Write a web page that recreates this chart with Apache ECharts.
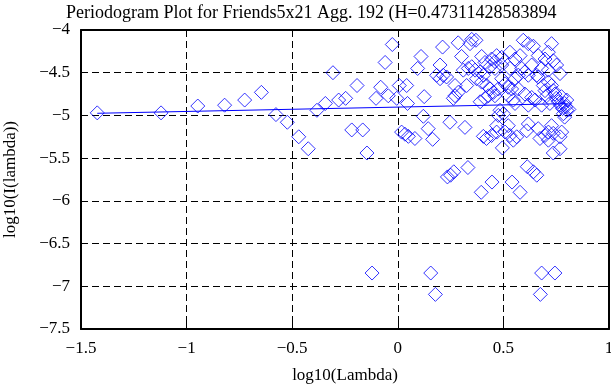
<!DOCTYPE html>
<html>
<head>
<meta charset="utf-8">
<script src="https://cdn.jsdelivr.net/npm/echarts@6/dist/echarts.min.js"></script>
<style>html,body{margin:0;padding:0;background:#fff}#c{width:611px;height:385px}</style>
</head>
<body>
<div id="c"></div>
<script>
var titleText = 'Periodogram Plot for Friends5x21 Agg. 192 (H=0.47311428583894';
var xName = 'log10(Lambda)';
var yName = 'log10(I(lambda))';
var xTicks = [-1.5, -1, -0.5, 0, 0.5, 1];
var yTicks = [-7.5, -7, -6.5, -6, -5.5, -5, -4.5, -4];

var logLambda = [-1.423,-1.121,-0.947,-0.820,-0.725,-0.646,-0.577,-0.523,-0.469,-0.424,
-0.383,-0.343,-0.307,-0.280,-0.247,-0.218,-0.193,-0.166,-0.146,-0.122,
-0.103,-0.081,-0.060,-0.045,-0.026,-0.005,0.007,0.018,0.034,0.042,
0.046,0.050,0.081,0.094,0.110,0.121,0.125,0.144,0.156,0.165,
0.178,0.184,0.200,0.200,0.212,0.215,0.231,0.235,0.247,0.250,
0.263,0.265,0.271,0.271,0.286,0.286,0.302,0.310,0.318,0.326,
0.332,0.334,0.342,0.350,0.350,0.366,0.370,0.373,0.390,0.390,
0.395,0.397,0.397,0.405,0.405,0.413,0.413,0.420,0.421,0.429,
0.437,0.437,0.444,0.444,0.446,0.453,0.460,0.460,0.460,0.468,
0.468,0.468,0.476,0.476,0.484,0.492,0.492,0.492,0.495,0.500,
0.508,0.508,0.523,0.523,0.523,0.531,0.531,0.531,0.539,0.541,
0.547,0.547,0.555,0.555,0.555,0.563,0.571,0.571,0.579,0.579,
0.587,0.594,0.602,0.602,0.610,0.613,0.618,0.618,0.618,0.618,
0.634,0.634,0.642,0.642,0.650,0.658,0.658,0.665,0.665,0.665,
0.673,0.675,0.681,0.681,0.681,0.689,0.697,0.697,0.697,0.705,
0.713,0.713,0.713,0.713,0.713,0.720,0.728,0.728,0.728,0.736,
0.736,0.736,0.736,0.744,0.744,0.752,0.750,0.760,0.768,0.768,
0.768,0.770,0.775,0.776,0.780,0.784,0.790,0.795,0.800,0.800,
0.790,0.810];

var logPeriodogram = [-4.97,-4.97,-4.89,-4.88,-4.82,-4.73,-4.99,-5.08,-5.25,-5.39,
-4.94,-4.86,-4.50,-4.82,-4.80,-5.17,-4.65,-5.17,-5.44,-6.845,
-4.80,-4.67,-4.38,-4.77,-4.17,-4.80,-4.65,-5.195,-5.22,-4.65,
-4.86,-5.245,-5.27,-4.45,-4.31,-5.01,-4.78,-5.155,-6.845,-5.28,
-7.095,-4.53,-4.41,-4.57,-4.20,-4.53,-4.55,-5.72,-5.08,-5.70,
-4.80,-5.66,-4.65,-4.77,-4.15,-4.73,-4.31,-4.47,-5.14,-4.65,
-5.61,-4.45,-4.16,-4.11,-4.43,-4.47,-4.12,-4.57,-4.49,-4.84,
-5.90,-4.31,-4.61,-4.53,-5.245,-4.38,-4.80,-5.27,-4.65,-4.77,
-4.43,-4.69,-4.34,-5.235,-5.78,-4.73,-4.37,-4.45,-4.77,-4.30,
-5.12,-5.195,-5.00,-4.69,-4.94,-4.32,-4.41,-4.57,-5.38,-4.98,
-4.63,-5.195,-4.67,-4.77,-5.12,-4.26,-4.45,-5.235,-4.69,-5.78,
-4.82,-5.29,-4.34,-4.57,-4.86,-5.25,-4.53,-4.69,-4.30,-5.90,
-4.45,-4.12,-4.49,-4.75,-5.18,-5.60,-4.16,-4.53,-4.88,-5.10,
-4.41,-4.79,-4.19,-5.66,-4.82,-4.53,-5.70,-4.30,-4.55,-5.155,
-5.27,-7.095,-4.45,-4.88,-6.845,-4.65,-4.34,-4.71,-5.235,-4.77,
-4.26,-4.47,-4.61,-5.195,-5.29,-4.86,-4.16,-4.65,-5.12,-4.36,
-4.71,-5.21,-5.44,-4.75,-6.845,-4.41,-4.80,-4.84,-4.51,-5.25,
-5.39,-4.88,-4.78,-5.195,-4.92,-4.98,-4.86,-4.90,-4.94,-4.82,
-5.02,-4.93];

var fitX = [-1.423, 0.795];
var fitY = [-4.975, -4.862];

var scatterData = logLambda.map(function (x, i) { return [x, logPeriodogram[i]]; });
var fitData = fitX.map(function (x, i) { return [x, fitY[i]]; });

function fmt(v) {
  return (v < 0 ? '\u2212' : '') + String(Math.abs(v));
}
var FONT = 'Liberation Serif';
var gridDash = { color: '#000', type: [7, 4], width: 1 };

function mkX(show) {
  return {
    type: 'value', min: xTicks[0], max: xTicks[xTicks.length - 1], interval: 0.5,
    position: show ? 'bottom' : 'top',
    name: show ? xName : '', nameLocation: 'middle', nameGap: 38,
    nameTextStyle: { fontFamily: FONT, fontSize: 17, color: '#000' },
    axisLine: { show: true, onZero: false, lineStyle: { color: '#000', width: 2 } },
    axisTick: { show: true, inside: true, length: 6, lineStyle: { color: '#000', width: 1 } },
    axisLabel: { show: show, margin: 11, fontFamily: FONT, fontSize: 17, color: '#000', formatter: fmt },
    splitLine: { show: show, lineStyle: gridDash }
  };
}
function mkY(show) {
  return {
    type: 'value', min: yTicks[0], max: yTicks[yTicks.length - 1], interval: 0.5,
    position: show ? 'left' : 'right',
    name: show ? yName : '', nameLocation: 'middle', nameGap: 62, nameRotate: 90,
    nameTextStyle: { fontFamily: FONT, fontSize: 17, color: '#000' },
    axisLine: { show: true, onZero: false, lineStyle: { color: '#000', width: 2 } },
    axisTick: { show: true, inside: true, length: 6, lineStyle: { color: '#000', width: 1 } },
    axisLabel: { show: show, margin: 11, fontFamily: FONT, fontSize: 17, color: '#000', formatter: fmt },
    splitLine: { show: show, lineStyle: gridDash }
  };
}

var chart = echarts.init(document.getElementById('c'), null, { renderer: 'canvas' });
chart.setOption({
  animation: false,
  backgroundColor: '#fff',
  title: {
    text: titleText, left: 61, top: -1,
    textStyle: { fontFamily: FONT, fontSize: 18, fontWeight: 'normal', color: '#000' }
  },
  grid: { left: 81, right: 2, top: 30, bottom: 56, outerBoundsMode: 'none', containLabel: false },
  xAxis: [mkX(true), mkX(false)],
  yAxis: [mkY(true), mkY(false)],
  series: [
    {
      type: 'scatter', xAxisIndex: 0, yAxisIndex: 0,
      data: scatterData, symbol: 'diamond', symbolSize: 14,
      itemStyle: { color: 'rgba(0,0,0,0)', borderColor: '#0000ff', borderWidth: 1 },
      emphasis: { disabled: true }
    },
    {
      type: 'line', xAxisIndex: 0, yAxisIndex: 0,
      data: fitData, symbol: 'none',
      lineStyle: { color: '#0000ff', width: 1 }
    }
  ]
});
</script>
</body>
</html>
